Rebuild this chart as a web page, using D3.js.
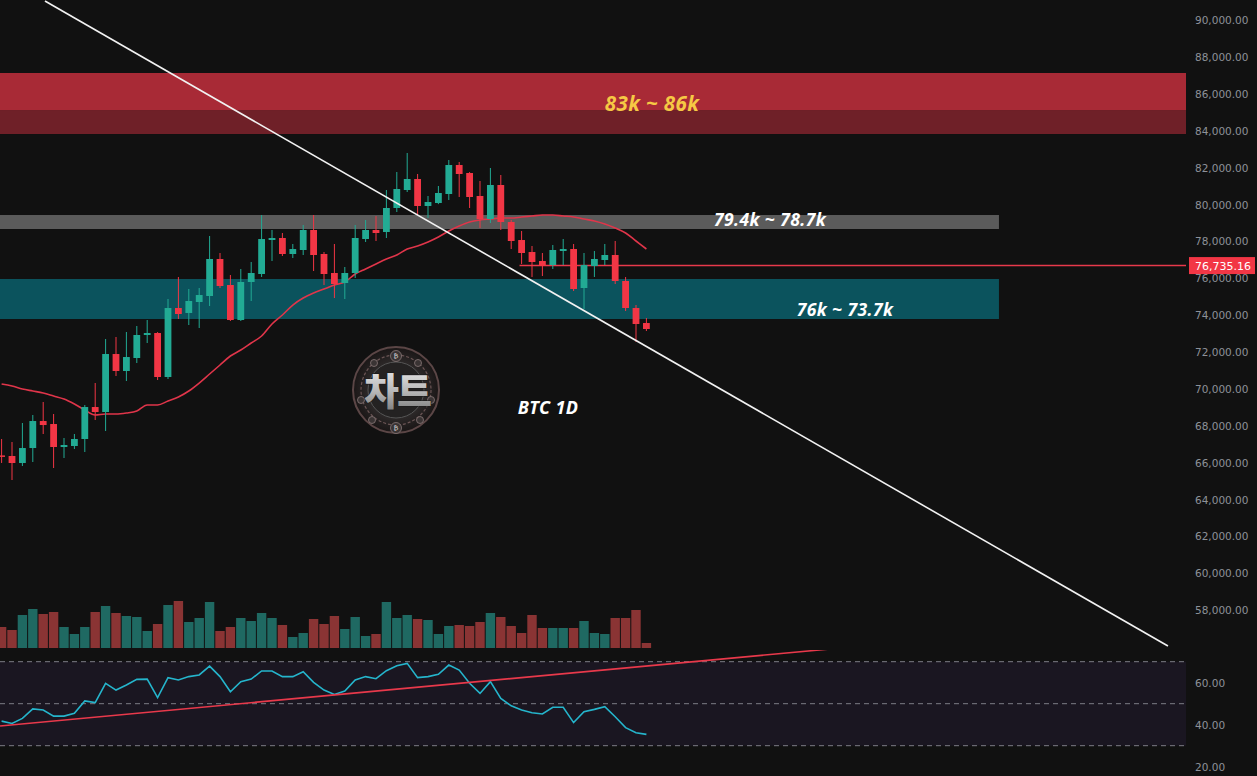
<!DOCTYPE html>
<html>
<head>
<meta charset="utf-8">
<script src="https://cdn.jsdelivr.net/npm/d3@7"></script>
<style>
html,body{margin:0;padding:0;background:#111111;}
svg{display:block;}
</style>
</head>
<body>
<svg id="chart" width="1257" height="776"></svg>
<script>
// ---------------- DATA ----------------
const opens  = [66330,66298,65918,66731,68196,68033,66786,66840,67220,68955,68684,71830,70908,71613,72861,72969,70583,74325,74055,74651,74976,76983,75573,73674,75736,76169,78013,78122,77254,77471,78556,77254,76224,75681,76224,78067,78556,78447,79749,80725,81322,79857,80020,80508,82081,81647,80400,79152,80997,78990,78013,77362,76874,76657,77417,77525,75410,76603,76929,77200,75790,74325,73511];
const highs  = [67220,67057,68088,68522,69227,68576,67274,67491,69063,70257,72644,72752,73023,73349,73674,73020,74813,76007,75356,75410,78230,77308,76115,76440,76820,79369,78556,78393,77797,78827,79369,77362,77797,76549,78827,79098,79315,80725,81702,82732,81593,80400,80942,82352,82244,81700,81213,81919,81539,79098,78501,77688,77308,77742,78067,77797,77308,77417,77797,77959,76007,74488,73783];
const lows   = [65920,64996,65755,65972,67491,65647,66189,66677,66514,68250,67654,70637,70366,71342,72427,70420,70474,73728,73403,73240,74434,75410,73620,73620,74705,76007,76874,77146,77037,77200,76332,75573,74867,74813,75953,77905,77959,78122,79532,80617,79369,79207,79960,80183,80346,79749,78664,78935,78556,77525,76712,76007,76061,76440,76657,75247,74271,76007,76657,75627,74162,72481,73077];
const closes = [66260,65918,66731,68196,67978,66786,66894,67220,68955,68684,71830,70908,71667,72861,72969,70583,74325,74000,74705,75030,76983,75518,73674,75736,76224,78067,78122,77254,77525,78556,77200,76169,75627,76224,78122,78556,78393,79749,80780,81322,79857,80074,80563,82081,81593,80346,79152,80997,78990,77959,77308,76820,76603,77471,77525,75356,76657,76983,77200,75790,74325,73457,73186];
const volumes = [21,18,33,39,34,36,21,14,21,36,42,35,32,31,17,24,43,47,26,30,46,17,21,30,27,35,30,23,11,15,29,24,32,19,31,12,14,46,30,33,29,28,14,22,23,22,26,35,31,22,15,33,20,20,20,20,27,15,14,30,30,38,5];
const maValues = [70202,70094,69931,69823,69714,69552,69389,69118,68792,68521,68575,68575,68629,68738,69063,69063,69280,69497,69823,70257,70745,71233,71721,72047,72426,72806,73457,73945,74487,74867,75138,75355,75572,75735,76169,76440,76711,76982,77199,77525,77688,77904,78176,78501,78772,78989,79098,79152,79206,79206,79260,79315,79369,79369,79315,79260,79152,79044,78881,78664,78393,77959,77525];
const rsiValues = [41.7,40.6,43.0,47.5,47.0,44.1,44.1,45.4,51.3,50.5,59.7,56.5,58.9,61.6,61.7,52.9,62.4,61.3,62.9,63.7,67.9,62.9,55.7,60.5,61.7,65.6,65.6,62.9,62.9,65.2,60.2,56.5,54.4,56.0,61.3,62.9,61.9,65.7,68.1,69.2,62.4,62.9,64.0,68.4,66.0,59.7,54.9,60.5,52.5,49.0,47.0,45.7,45.1,48.3,48.3,41.0,46.2,47.3,48.6,43.8,38.6,36.2,35.4];

const priceTicks = [90000,88000,86000,84000,82000,80000,78000,76000,74000,72000,70000,68000,66000,64000,62000,60000,58000];
const rsiTicks = [60,40,20];
const rsiLevels = [70,50,30];

// zones [low, high]
const zoneRedTop = [85064, 87071];
const zoneRedBottom = [83762, 85064];
const zoneGray = [78610, 79369];
const zoneTeal = [73728, 75898];
const zoneEndIndex = 95.9;

const zoneLabels = ["83k ~ 86k", "79.4k ~ 78.7k", "76k ~ 73.7k"];
const chartTitle = "BTC 1D";
const logoText = "차트";
const lastPrice = 76735.16;
const lastPriceStartIndex = 49.8;

// trend lines: [index, value]
const mainTrend = [[4.17, 90976], [112.15, 55992]];
const rsiTrend = [[-0.15, 39.4], [90, 80.8]];

// ---------------- LAYOUT ----------------
const W = 1257, H = 776;
const plotRight = 1186;
const mainTop = 0, mainBottom = 650;
const rsiTop = 650, rsiBottom = 776;

const svg = d3.select("#chart");
svg.append("rect").attr("width", W).attr("height", H).attr("fill", "#111111");

const x = d3.scaleLinear().domain([0, 62]).range([1.6, 646.4]);
const y = d3.scaleLinear().domain([58000, 90000]).range([609, 19]);
const yVol = d3.scaleLinear().domain([0, 50]).range([648, 598]);
const yRsi = d3.scaleLinear().domain([30, 70]).range([745.7, 661.7]);

const defs = svg.append("defs");
defs.append("clipPath").attr("id", "clipMain").append("rect")
  .attr("x", 0).attr("y", mainTop).attr("width", plotRight).attr("height", mainBottom - mainTop);
defs.append("clipPath").attr("id", "clipRsi").append("rect")
  .attr("x", 0).attr("y", rsiTop).attr("width", plotRight).attr("height", rsiBottom - rsiTop);

const main = svg.append("g").attr("clip-path", "url(#clipMain)");
const rsiG = svg.append("g").attr("clip-path", "url(#clipRsi)");

// ---------------- ZONES ----------------
function zone(g, range, x1, color) {
  g.append("rect")
    .attr("x", 0)
    .attr("y", y(range[1]))
    .attr("width", x1)
    .attr("height", y(range[0]) - y(range[1]))
    .attr("fill", color);
}
zone(main, zoneRedTop, plotRight, "#a82a36");
zone(main, zoneRedBottom, plotRight, "#6f2028");
zone(main, zoneGray, x(zoneEndIndex), "#5b5b5b");
zone(main, zoneTeal, x(zoneEndIndex), "#0b535d");

// ---------------- VOLUME ----------------
const idx = d3.range(opens.length);
const up = i => closes[i] >= opens[i];
main.append("g").selectAll("rect").data(idx).join("rect")
  .attr("x", i => x(i) - 4.7)
  .attr("width", 9.4)
  .attr("y", i => yVol(volumes[i]))
  .attr("height", i => yVol(0) - yVol(volumes[i]))
  .attr("fill", i => up(i) ? "#1f6962" : "#8a3434");

// ---------------- MA ----------------
main.append("path")
  .datum(idx)
  .attr("fill", "none")
  .attr("stroke", "#e0354a")
  .attr("stroke-width", 1.6)
  .attr("d", d3.line().x(i => x(i)).y(i => y(maValues[i])).curve(d3.curveMonotoneX));

// ---------------- LAST PRICE LINE ----------------
const lastY = y(lastPrice) + 2;
main.append("line")
  .attr("x1", x(lastPriceStartIndex)).attr("x2", plotRight)
  .attr("y1", lastY).attr("y2", lastY)
  .attr("stroke", "#e8394b").attr("stroke-width", 1.5);

// ---------------- CANDLES ----------------
const cg = main.append("g");
cg.selectAll("line").data(idx).join("line")
  .attr("x1", i => x(i)).attr("x2", i => x(i))
  .attr("y1", i => y(highs[i])).attr("y2", i => y(lows[i]))
  .attr("stroke", i => up(i) ? "#22ab94" : "#f23645")
  .attr("stroke-width", 1);
cg.selectAll("rect").data(idx).join("rect")
  .attr("x", i => x(i) - 3.4)
  .attr("width", 6.8)
  .attr("y", i => y(Math.max(opens[i], closes[i])))
  .attr("height", i => Math.max(1.5, Math.abs(y(opens[i]) - y(closes[i]))))
  .attr("fill", i => up(i) ? "#22ab94" : "#f23645");

// ---------------- MAIN TREND LINE ----------------
main.append("line")
  .attr("x1", x(mainTrend[0][0])).attr("y1", y(mainTrend[0][1]))
  .attr("x2", x(mainTrend[1][0])).attr("y2", y(mainTrend[1][1]))
  .attr("stroke", "#f2f2f2").attr("stroke-width", 1.6);

// ---------------- LABELS ----------------
const labelFont = "'Noto Sans', 'DejaVu Sans', sans-serif";
function label(t, cx, by, size, color) {
  main.append("text").text(t)
    .attr("x", cx).attr("y", by)
    .attr("text-anchor", "middle")
    .attr("font-family", labelFont).attr("font-weight", 700).attr("font-style", "italic")
    .attr("font-size", size).attr("letter-spacing", 0.4).attr("fill", color);
}
label(zoneLabels[0], 652, 111, 20.5, "#f6c844");
label(zoneLabels[1], 770, 225.5, 17.5, "#ffffff");
label(zoneLabels[2], 845, 315.5, 17.5, "#ffffff");
label(chartTitle, 548, 414, 18, "#ffffff");

// ---------------- LOGO ----------------
const logo = main.append("g").attr("transform", "translate(396,390)");
const rg = defs.append("radialGradient").attr("id", "logoBg");
rg.append("stop").attr("offset", "0%").attr("stop-color", "#4a4a4a");
rg.append("stop").attr("offset", "70%").attr("stop-color", "#2a2626");
rg.append("stop").attr("offset", "100%").attr("stop-color", "#1a1616");
const tg = defs.append("linearGradient").attr("id", "logoText").attr("x1", 0).attr("y1", 0).attr("x2", 0).attr("y2", 1);
tg.append("stop").attr("offset", "0%").attr("stop-color", "#f4f4f4");
tg.append("stop").attr("offset", "55%").attr("stop-color", "#b8b8b8");
tg.append("stop").attr("offset", "100%").attr("stop-color", "#707070");
logo.append("circle").attr("r", 43).attr("fill", "url(#logoBg)").attr("stroke", "#5b4646").attr("stroke-width", 2);
logo.append("circle").attr("r", 35).attr("fill", "none").attr("stroke", "#6b5555").attr("stroke-width", 1.2).attr("stroke-dasharray", "3,2");
logo.append("circle").attr("r", 28).attr("fill", "#242222").attr("stroke", "#555").attr("stroke-width", 1);
const dotPos = [[-22,-27],[22,-27],[-35,10],[35,10],[-24,30],[24,30]];
logo.selectAll("circle.dot").data(dotPos).join("circle").attr("class","dot")
  .attr("cx", d => d[0]).attr("cy", d => d[1]).attr("r", 3.5)
  .attr("fill", "#3a3434").attr("stroke", "#8a7a7a").attr("stroke-width", 0.8);
const coinPos = [[0,-34],[0,38]];
logo.selectAll("g.coin").data(coinPos).join("g").attr("class","coin")
  .attr("transform", d => `translate(${d[0]},${d[1]})`)
  .each(function(){
    const g = d3.select(this);
    g.append("circle").attr("r", 5.5).attr("fill", "#3a3434").attr("stroke", "#8a7a7a").attr("stroke-width", 0.8);
    g.append("text").text("₿").attr("text-anchor","middle").attr("dy","0.35em")
      .attr("font-size", 7).attr("font-family","'DejaVu Sans'").attr("fill","#cfcfcf");
  });
logo.append("text").text(logoText)
  .attr("x", 1).attr("y", 15)
  .attr("text-anchor", "middle")
  .attr("font-family", "'Noto Sans CJK KR', sans-serif").attr("font-weight", 900)
  .attr("font-size", 38).attr("letter-spacing", -2)
  .attr("fill", "url(#logoText)").attr("stroke", "#1a1a1a").attr("stroke-width", 1.2)
  .attr("paint-order", "stroke");

// ---------------- RSI PANE ----------------
rsiG.append("rect")
  .attr("x", 0).attr("width", plotRight)
  .attr("y", yRsi(70)).attr("height", yRsi(30) - yRsi(70))
  .attr("fill", "#1a1621");
rsiG.selectAll("line.lvl").data(rsiLevels).join("line").attr("class", "lvl")
  .attr("x1", 0).attr("x2", plotRight)
  .attr("y1", d => yRsi(d)).attr("y2", d => yRsi(d))
  .attr("stroke", "#7d7d85").attr("stroke-width", 1).attr("stroke-dasharray", "5,4");
rsiG.append("path").datum(idx)
  .attr("fill", "none").attr("stroke", "#25b5cc").attr("stroke-width", 1.6)
  .attr("d", d3.line().x(i => x(i)).y(i => yRsi(rsiValues[i])));
rsiG.append("line")
  .attr("x1", x(rsiTrend[0][0])).attr("y1", yRsi(rsiTrend[0][1]))
  .attr("x2", x(rsiTrend[1][0])).attr("y2", yRsi(rsiTrend[1][1]))
  .attr("stroke", "#e8394b").attr("stroke-width", 1.6);

// ---------------- AXES ----------------
const axisFont = "'DejaVu Sans', sans-serif";
const ax = svg.append("g").attr("transform", "translate(1195,0)")
  .call(d3.axisRight(y).tickValues(priceTicks).tickSize(0).tickPadding(0).tickFormat(d3.format(",.2f")));
ax.select(".domain").remove();
ax.selectAll("text").attr("font-family", axisFont).attr("font-size", 10.5).attr("fill", "#8e9199").attr("dy", "0.45em");

const axR = svg.append("g").attr("transform", "translate(1195,0)")
  .call(d3.axisRight(yRsi).tickValues(rsiTicks).tickSize(0).tickPadding(0).tickFormat(d3.format(".2f")));
axR.select(".domain").remove();
axR.selectAll("text").attr("font-family", axisFont).attr("font-size", 10.5).attr("fill", "#8e9199").attr("dy", "0.35em");

// last price tag
const tag = svg.append("g").attr("transform", `translate(1189,${lastY})`);
tag.append("rect").attr("x", 0).attr("y", -8.5).attr("width", 66).attr("height", 17).attr("fill", "#f23645");
tag.append("text").text(d3.format(",.2f")(lastPrice))
  .attr("x", 6).attr("dy", "0.36em")
  .attr("font-family", axisFont).attr("font-size", 11).attr("fill", "#ffffff");
</script>
</body>
</html>
